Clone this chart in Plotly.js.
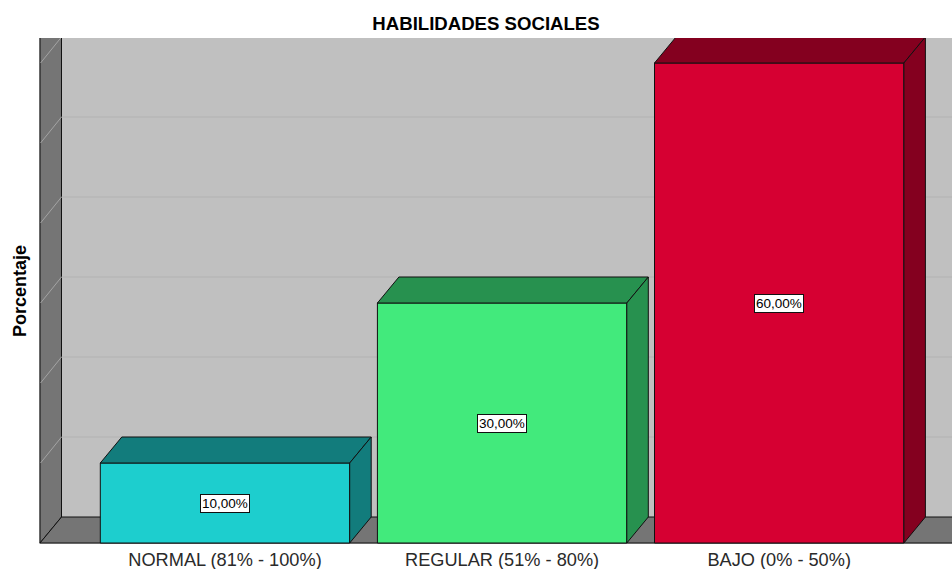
<!DOCTYPE html>
<html>
<head>
<meta charset="utf-8">
<script src="https://cdn.plot.ly/plotly-3.0.1.min.js"></script>
<style>
  html, body { margin: 0; padding: 0; background: #ffffff; }
  #chart { width: 952px; height: 569px; }
</style>
</head>
<body>
<div id="chart"></div>
<script>
// ---- data ----
const categories = ['NORMAL (81% - 100%)', 'REGULAR (51% - 80%)', 'BAJO (0% - 50%)'];
const percentages = [10, 30, 60];
const valueLabels = ['10,00%', '30,00%', '60,00%'];
const gridValues = [10, 20, 30, 40, 50, 60];
const frontColors = ['#1dcece', '#42ea7c', '#d60032'];
const shadeColors = ['#127c7c', '#27914f', '#84001f'];

// ---- geometry (px -> data) ----
const PX_X = 277.1;          // px per category
const PX_Y = 8.0;            // px per percent
const DX = 21.5 / PX_X;      // depth offset (x)
const DY = 26 / PX_Y;        // depth offset (y)
const BAR_W = 0.9;
const X0 = -185 / PX_X;      // front-left wall edge
const XMIN = X0 - 1 / PX_X;
const XMAX = XMIN + 913 / PX_X;
const YMIN = -1 / PX_Y;
const YMAX = YMIN + 506 / PX_Y;
const XEND = XMAX + 1;
const FONT = 'Liberation Sans, Arial, sans-serif';

const shapes = [];
// left wall
shapes.push({type: 'path', xref: 'x', yref: 'y', layer: 'below',
  path: `M ${X0},0 L ${X0 + DX},${DY} L ${X0 + DX},${YMAX + 10} L ${X0},${YMAX + 10} Z`,
  fillcolor: '#757575', line: {color: '#111111', width: 1}});
// floor
shapes.push({type: 'path', xref: 'x', yref: 'y', layer: 'below',
  path: `M ${X0},0 L ${XEND},0 L ${XEND + DX},${DY} L ${X0 + DX},${DY} Z`,
  fillcolor: '#757575', line: {color: '#111111', width: 1}});
// gridlines: back wall and left wall diagonals
gridValues.forEach(v => {
  shapes.push({type: 'line', xref: 'x', yref: 'y', layer: 'below',
    x0: X0 + DX, y0: v + DY, x1: XEND, y1: v + DY,
    line: {color: '#b2b2b2', width: 1}});
  shapes.push({type: 'line', xref: 'x', yref: 'y', layer: 'below',
    x0: X0 + 0.002, y0: v, x1: X0 + DX, y1: v + DY,
    line: {color: '#a4a4a4', width: 1}});
});

const xs = categories.map((c, i) => i);

const traces = [];
traces.push({
  type: 'bar', x: xs, y: percentages, width: BAR_W,
  marker: {color: frontColors, line: {color: '#111111', width: 1}},
  hoverinfo: 'skip', showlegend: false
});
percentages.forEach((v, i) => {
  const xl = i - BAR_W / 2, xr = i + BAR_W / 2;
  // top face
  traces.push({type: 'scatter', mode: 'lines', fill: 'toself',
    x: [xl, xl + DX, xr + DX, xr, xl],
    y: [v, v + DY, v + DY, v, v],
    fillcolor: shadeColors[i], line: {color: '#111111', width: 1},
    hoverinfo: 'skip', showlegend: false, cliponaxis: false});
  // side face
  traces.push({type: 'scatter', mode: 'lines', fill: 'toself',
    x: [xr, xr + DX, xr + DX, xr, xr],
    y: [0, DY, v + DY, v, 0],
    fillcolor: shadeColors[i], line: {color: '#111111', width: 1},
    hoverinfo: 'skip', showlegend: false, cliponaxis: false});
});

const annotations = percentages.map((v, i) => ({
  x: i, y: v / 2, xref: 'x', yref: 'y', text: valueLabels[i], showarrow: false,
  bgcolor: '#ffffff', bordercolor: '#111111', borderwidth: 1, borderpad: 1,
  font: {family: FONT, size: 13.5, color: '#000000'}
}));

const layout = {
  width: 952, height: 569,
  margin: {l: 39, r: 0, t: 38, b: 25},
  paper_bgcolor: '#ffffff', plot_bgcolor: '#c0c0c0',
  title: {text: '<b>HABILIDADES SOCIALES</b>', font: {family: FONT, size: 18.6, color: '#000000'},
    x: (486 - 39) / 913, xref: 'paper', xanchor: 'center', y: 1 - 23 / 569, yanchor: 'middle'},
  xaxis: {range: [XMIN, XMAX], tickvals: xs, ticktext: categories, showgrid: false, zeroline: false,
    showline: false, ticks: '', ticklabelstandoff: 3,
    tickfont: {family: FONT, size: 18.2, color: '#2a2a2a'}, fixedrange: true},
  yaxis: {range: [YMIN, YMAX], showgrid: false, zeroline: false, showticklabels: false, ticks: '',
    title: {text: '<b>Porcentaje</b>', font: {family: FONT, size: 18, color: '#000000'}, standoff: 6},
    fixedrange: true},
  shapes: shapes,
  annotations: annotations,
  bargap: 0.1,
  showlegend: false
};

Plotly.newPlot('chart', traces, layout, {displayModeBar: false, staticPlot: true});
</script>
</body>
</html>
